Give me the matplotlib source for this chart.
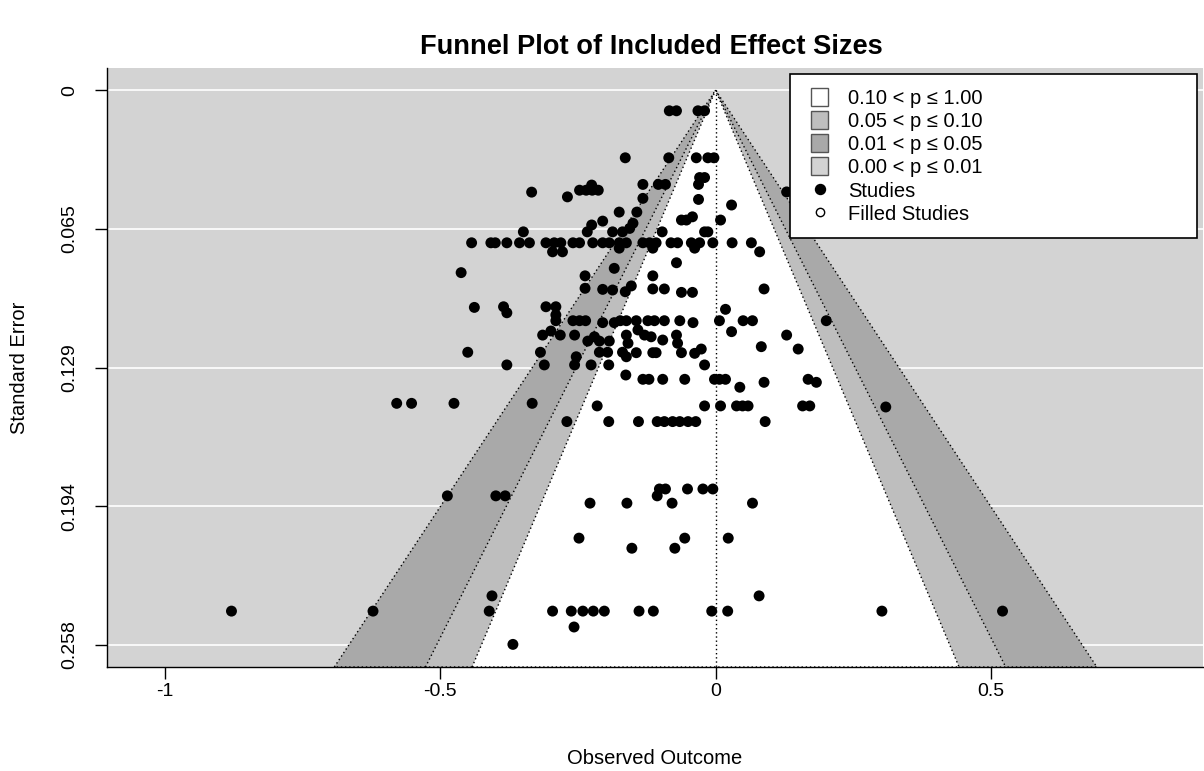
import numpy as np
import matplotlib
matplotlib.use('Agg')
import matplotlib.pyplot as plt
from matplotlib.patches import Patch, Polygon, Rectangle
from matplotlib.lines import Line2D
from matplotlib.legend_handler import HandlerPatch

plt.rcParams['font.family'] = ['Liberation Sans', 'DejaVu Sans']

# effect sizes (yi) and standard errors (sei)
yi = [-0.084, -0.071, -0.032, -0.020,
      -0.164, -0.085, -0.035, -0.014, -0.003,
      -0.029, -0.020,
      -0.031, -0.132, -0.104, -0.091,
      -0.247, -0.235, -0.224, -0.213, -0.225, -0.334, 0.129,
      -0.269, -0.132, -0.031,
      0.029,
      -0.175, -0.143,
      -0.042,
      -0.062, -0.053, 0.009,
      -0.205, -0.150, -0.225, -0.156,
      -0.169, -0.233, -0.349, -0.187, -0.097, -0.020, -0.014,
      -0.443, -0.408, -0.400, -0.379, -0.356, -0.338, -0.308, -0.293, -0.281, -0.259,
      -0.247, -0.223, -0.205, -0.193, -0.175, -0.162, -0.132, -0.120, -0.108, -0.081,
      -0.069, -0.044, -0.029, -0.005, 0.030, 0.065,
      -0.175, -0.114, -0.038,
      0.080, -0.296, -0.278,
      -0.071, -0.184, -0.462, -0.237, -0.114,
      -0.153, -0.164, -0.237, -0.205, -0.187,
      -0.114, -0.093, 0.088, -0.062, -0.042,
      -0.438, -0.385, -0.308, -0.290, -0.379, -0.290, 0.018,
      -0.290, -0.259, -0.247, -0.236, -0.173, -0.162, -0.144, -0.123, -0.111, -0.093,
      -0.065, 0.007, 0.050, 0.067, 0.201,
      -0.205, -0.184, -0.041,
      -0.299,
      -0.314, -0.282, -0.256, -0.162, -0.129, -0.071, 0.129,
      -0.220, -0.117,
      -0.232, -0.211, -0.193,
      -0.159, -0.069,
      -0.141, -0.096, 0.029,
      0.083, 0.150, -0.026,
      -0.450, -0.318, -0.211, -0.196, -0.169,
      -0.253, -0.162,
      -0.144, -0.114, -0.108, -0.062, -0.038,
      -0.256, -0.379, -0.311, -0.226, -0.194, -0.020,
      -0.163,
      -0.132, -0.121, -0.096, -0.056, -0.002, 0.007, 0.018, 0.168,
      0.088, 0.183, 0.044,
      -0.579, -0.552, -0.475, -0.333,
      -0.215, -0.020, 0.009, 0.038, 0.049, 0.059, 0.158, 0.171, 0.309,
      -0.270, -0.194, -0.140, -0.106, -0.093, -0.078, -0.065, -0.050, -0.036, 0.090,
      -0.102, -0.091, -0.051, -0.023, -0.005,
      -0.106, -0.487, -0.399, -0.382,
      -0.228, -0.161, -0.079, 0.067,
      -0.248, -0.056, 0.023,
      -0.152, -0.074,
      -0.406, 0.079,
      -0.879, -0.622, -0.411, -0.296, -0.262, -0.241, -0.222, -0.202, -0.139, -0.113,
      -0.007, 0.022, 0.302, 0.521,
      -0.257, -0.368]

sei = [0.0096] * 4 + \
      [0.0315] * 5 + \
      [0.0407] * 2 + \
      [0.0439] * 4 + \
      [0.0466] * 4 + [0.0442, 0.0475, 0.0474] + \
      [0.0497, 0.0504, 0.0509] + \
      [0.0535] + \
      [0.0568] * 2 + \
      [0.0590] + \
      [0.0605] * 3 + \
      [0.0610, 0.0620, 0.0628, 0.0644] + \
      [0.0660] * 7 + \
      [0.0711] * 26 + \
      [0.0736] * 3 + \
      [0.0753] * 3 + \
      [0.0804, 0.0830, 0.0850, 0.0865, 0.0865] + \
      [0.0912, 0.0939, 0.0923, 0.0928, 0.0931] + \
      [0.0926] * 3 + [0.0942] * 2 + \
      [0.1012, 0.1009, 0.1009, 0.1009, 0.1037, 0.1047, 0.1021] + \
      [0.1074] * 15 + \
      [0.1083] * 3 + \
      [0.1122] + \
      [0.1141] * 7 + \
      [0.1149] * 2 + \
      [0.1169] * 3 + \
      [0.1179] * 2 + \
      [0.1117, 0.1164, 0.1125] + \
      [0.1195, 0.1206, 0.1206] + \
      [0.1221] * 5 + \
      [0.1242] * 2 + \
      [0.1223] * 4 + [0.1226] + \
      [0.1280] * 6 + \
      [0.1327] + \
      [0.1347] * 8 + \
      [0.1361, 0.1361, 0.1384] + \
      [0.1459] * 4 + \
      [0.1471] * 8 + [0.1476] + \
      [0.1544] * 10 + \
      [0.1858] * 5 + \
      [0.1890] * 4 + \
      [0.1924] * 4 + \
      [0.2087] * 3 + \
      [0.2134] * 2 + \
      [0.2356] * 2 + \
      [0.2427] * 14 + \
      [0.2501, 0.2582]

se_max = 0.2584
y_ticks = [0, se_max / 4, se_max / 2, 3 * se_max / 4, se_max]
y_ticklabels = ['0', '0.065', '0.129', '0.194', '0.258']
x_ticks = [-1, -0.5, 0, 0.5]
x_ticklabels = ['-1', '-0.5', '0', '0.5']

# contour levels (z for p = .01, .05, .10) and their shades
z_levels = [2.576, 1.960, 1.645]
shades = ['#A9A9A9', '#BEBEBE', 'white']
back = '#D3D3D3'
legend_labels = ['0.10 < p \u2264 1.00', '0.05 < p \u2264 0.10',
                 '0.01 < p \u2264 0.05', '0.00 < p \u2264 0.01']
legend_colors = ['white', '#BEBEBE', '#A9A9A9', '#D3D3D3']

fig = plt.figure(figsize=(12.04, 7.71), dpi=100)
ax = fig.add_axes([107 / 1204, 1 - 667 / 771, 1096 / 1204, 599 / 771])

ylo = -0.04 * se_max
yhi = se_max * 1.04
ax.set_xlim(-1.105, 0.885)
ax.set_ylim(yhi, ylo)
ax.set_facecolor(back)

for t in y_ticks:
    ax.axhline(t, color='white', lw=1.2, zorder=1)

for z, col in zip(z_levels, shades):
    poly = Polygon([(-z * yhi, yhi), (0, 0), (z * yhi, yhi)], closed=True,
                   facecolor=col, edgecolor='black', lw=1.0,
                   linestyle=(0, (1, 2)), zorder=2)
    ax.add_patch(poly)

ax.plot([0, 0], [0, yhi], color='black', lw=1.0, linestyle=(0, (1, 2)), zorder=3)

ax.scatter(yi, sei, s=62, color='black', edgecolors='none', zorder=4)

ax.spines['top'].set_visible(False)
ax.spines['right'].set_visible(False)
for sp in ['left', 'bottom']:
    ax.spines[sp].set_linewidth(1)

ax.set_xticks(x_ticks)
ax.set_xticklabels(x_ticklabels)
ax.set_yticks(y_ticks)
ax.set_yticklabels(y_ticklabels, rotation=90, va='center')
ax.tick_params(axis='both', direction='out', length=8.6, width=1, labelsize=14)
ax.tick_params(axis='x', pad=3)
ax.tick_params(axis='y', pad=12)

ax.set_xlabel('Observed Outcome', fontsize=14.5)
ax.xaxis.set_label_coords(0.5, (667 - 758) / 599)
ax.xaxis.label.set_va('center')
ax.set_ylabel('Standard Error', fontsize=14.5)
ax.yaxis.set_label_coords((20 - 107) / 1096, 0.5)
ax.yaxis.label.set_va('center')

fig.suptitle('Funnel Plot of Included Effect Sizes', fontsize=19.6,
             fontweight='bold', x=651 / 1204, y=1 - 47 / 771, va='center')


def square(legend, orig_handle, xdescent, ydescent, width, height, fontsize):
    s = 0.88 * fontsize
    return Rectangle((-xdescent + (width - s) / 2, -ydescent + (height - s) / 2), s, s)


handles = [Patch(facecolor=c, edgecolor='#555555', lw=1) for c in legend_colors]
handles += [Line2D([], [], marker='o', linestyle='none', markersize=7.2,
                   color='black'),
            Line2D([], [], marker='o', linestyle='none', markersize=6,
                   markerfacecolor='white', markeredgecolor='black')]
leg = ax.legend(handles, legend_labels + ['Studies', 'Filled Studies'],
                handler_map={Patch: HandlerPatch(patch_func=square)},
                loc='upper left', bbox_to_anchor=(0.6232, 0.5, 0.3713, 0.49),
                mode='expand', fontsize=14.5, frameon=True, fancybox=False,
                framealpha=1, edgecolor='black', borderpad=0.72,
                labelspacing=0.2, handlelength=1.5, handleheight=0.88,
                handletextpad=0.67, borderaxespad=0)
leg.get_frame().set_linewidth(1.2)
leg.set_zorder(5)

fig.savefig('out.png', dpi=100)
